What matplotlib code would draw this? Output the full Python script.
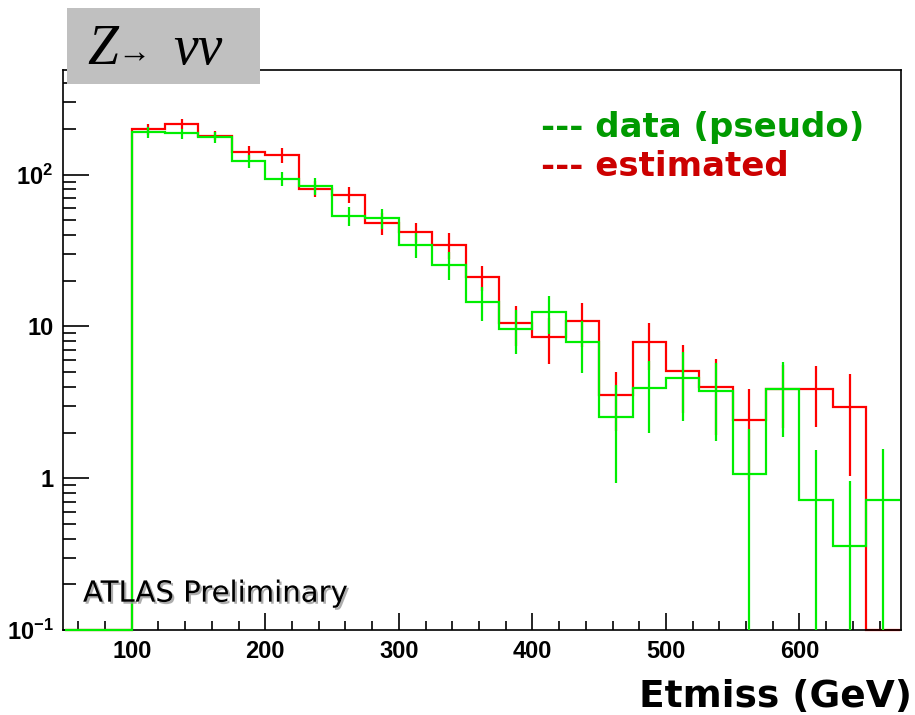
import numpy as np
import matplotlib
matplotlib.use("Agg")
import matplotlib.pyplot as plt
import matplotlib.patheffects as pe
from matplotlib.patches import Rectangle
from matplotlib.ticker import FixedLocator, FixedFormatter, MultipleLocator

# 25 GeV bins starting at 50 GeV (the first two bins are empty)
bin_start = 50
bin_width = 25

# pseudo data (green)
data_vals = [0, 0, 190, 187, 177, 123, 94, 84, 53.5, 51.8, 34.6, 25.5, 14.5,
             9.66, 12.4, 7.9, 2.53, 3.96, 4.6, 3.77, 1.06, 3.85, 0.718, 0.355, 0.718]
data_errs = [0, 0, 15, 14, 14, 12, 9.5, 11, 7.5, 8, 6.5, 5.3, 3.7,
             3.1, 3.5, 3.0, 1.6, 1.96, 2.2, 2.0, 1.05, 1.97, 0.82, 0.6, 0.83]

# estimated (red)
est_vals = [0, 0, 200, 217, 181, 141, 134, 81, 74, 48, 41.9, 34.6, 21.2,
            10.5, 8.5, 10.8, 3.55, 7.9, 5.1, 4.02, 2.43, 3.85, 3.85, 2.94, 0]
est_errs = [0, 0, 17, 16, 12, 14, 15, 10, 9, 8, 6.2, 6.7, 4,
            3.1, 2.8, 3.5, 1.5, 2.7, 2.4, 2.1, 1.45, 1.7, 1.66, 1.9, 0]

y_ticks = [0.1, 1, 10, 100]
y_ticklabels = [r'$10^{-1}$', '1', '10', r'$10^{2}$']

plt.rcParams['mathtext.fontset'] = 'custom'
plt.rcParams['mathtext.rm'] = 'Liberation Sans:bold'
plt.rcParams['mathtext.it'] = 'Liberation Sans:bold'
plt.rcParams['mathtext.bf'] = 'Liberation Sans:bold'


def draw_hist(ax, vals, errs, color, z):
    vals = np.asarray(vals, dtype=float)
    errs = np.asarray(errs, dtype=float)
    edges = bin_start + bin_width * np.arange(len(vals) + 1)
    centers = 0.5 * (edges[:-1] + edges[1:])
    floor = ax.get_ylim()[0]
    # empty bins sit on the bottom of the frame, like ROOT does
    shown = np.where(vals > 0, vals, floor)
    ax.stairs(shown, edges, baseline=None, color=color, lw=1.6, zorder=z,
              clip_on=False)
    filled = vals > 0
    lo = np.maximum(vals - errs, floor)
    hi = vals + errs
    ax.vlines(centers[filled], lo[filled], hi[filled], color=color, lw=1.6,
              zorder=z, clip_on=False)


fig = plt.figure(figsize=(9.15, 7.15), dpi=100)
ax = fig.add_axes([0.0689, 0.1189, 0.9158, 0.7832])
ax.set_yscale('log')
ax.set_xlim(48.6, 676)
ax.set_ylim(0.1, 490)

draw_hist(ax, est_vals, est_errs, '#ff0000', 2.2)
draw_hist(ax, data_vals, data_errs, '#00ee00', 3)

# axes, ROOT style
ax.yaxis.set_major_locator(FixedLocator(y_ticks))
ax.yaxis.set_major_formatter(FixedFormatter(y_ticklabels))
minor_y = [m * 10.0 ** e for e in range(-1, 3) for m in range(2, 10)]
ax.yaxis.set_minor_locator(FixedLocator([v for v in minor_y if v < 490]))
ax.yaxis.set_minor_formatter(FixedFormatter([]))
ax.xaxis.set_major_locator(MultipleLocator(100))
ax.xaxis.set_minor_locator(MultipleLocator(20))

ax.tick_params(axis='both', which='both', direction='in', top=False, right=False,
               width=1.2, pad=7, labelsize=17)
ax.tick_params(axis='y', which='major', length=19)
ax.tick_params(axis='y', which='minor', length=9.5)
ax.tick_params(axis='x', which='major', length=12)
ax.tick_params(axis='x', which='minor', length=6.5)
for lab in ax.get_xticklabels() + ax.get_yticklabels():
    lab.set_fontfamily('Liberation Sans')
    lab.set_fontweight('bold')
for sp in ax.spines.values():
    sp.set_linewidth(1.2)

# legend-like text
fig.text(0.591, 0.8088, '--- data (pseudo)', color='#009a00', fontsize=24.5,
         fontweight='bold', family='DejaVu Sans', va='baseline')
fig.text(0.591, 0.7538, '--- estimated', color='#cc0000', fontsize=24.5,
         fontweight='bold', family='DejaVu Sans', va='baseline')

fig.text(0.9967, 0.0117, 'Etmiss (GeV)', fontsize=27, fontweight='bold',
         family='DejaVu Sans', ha='right', va='baseline')

fig.text(0.0907, 0.1585, 'ATLAS Preliminary', fontsize=21, family='DejaVu Sans',
         va='baseline',
         path_effects=[pe.withSimplePatchShadow(offset=(1.5, -1.5),
                                                shadow_rgbFace='#999999', alpha=0.8)])

# process label in a grey box
fig.patches.append(Rectangle((0.0732, 0.8825), 0.2109, 0.1063,
                             transform=fig.transFigure, facecolor='#c0c0c0',
                             edgecolor='none', zorder=5))
fig.text(0.0951, 0.9105, 'Z', fontsize=40, style='italic',
         family=['Liberation Serif', 'DejaVu Serif'], va='baseline', zorder=6)
fig.text(0.1279, 0.9259, '\u2192', fontsize=24,
         family=['Liberation Serif', 'DejaVu Serif'], va='center', zorder=6)
fig.text(0.189, 0.9105, '\u03bd\u03bd', fontsize=40, style='italic',
         family=['Liberation Serif', 'DejaVu Serif'], va='baseline', zorder=6)

fig.savefig('out.png', dpi=100)
